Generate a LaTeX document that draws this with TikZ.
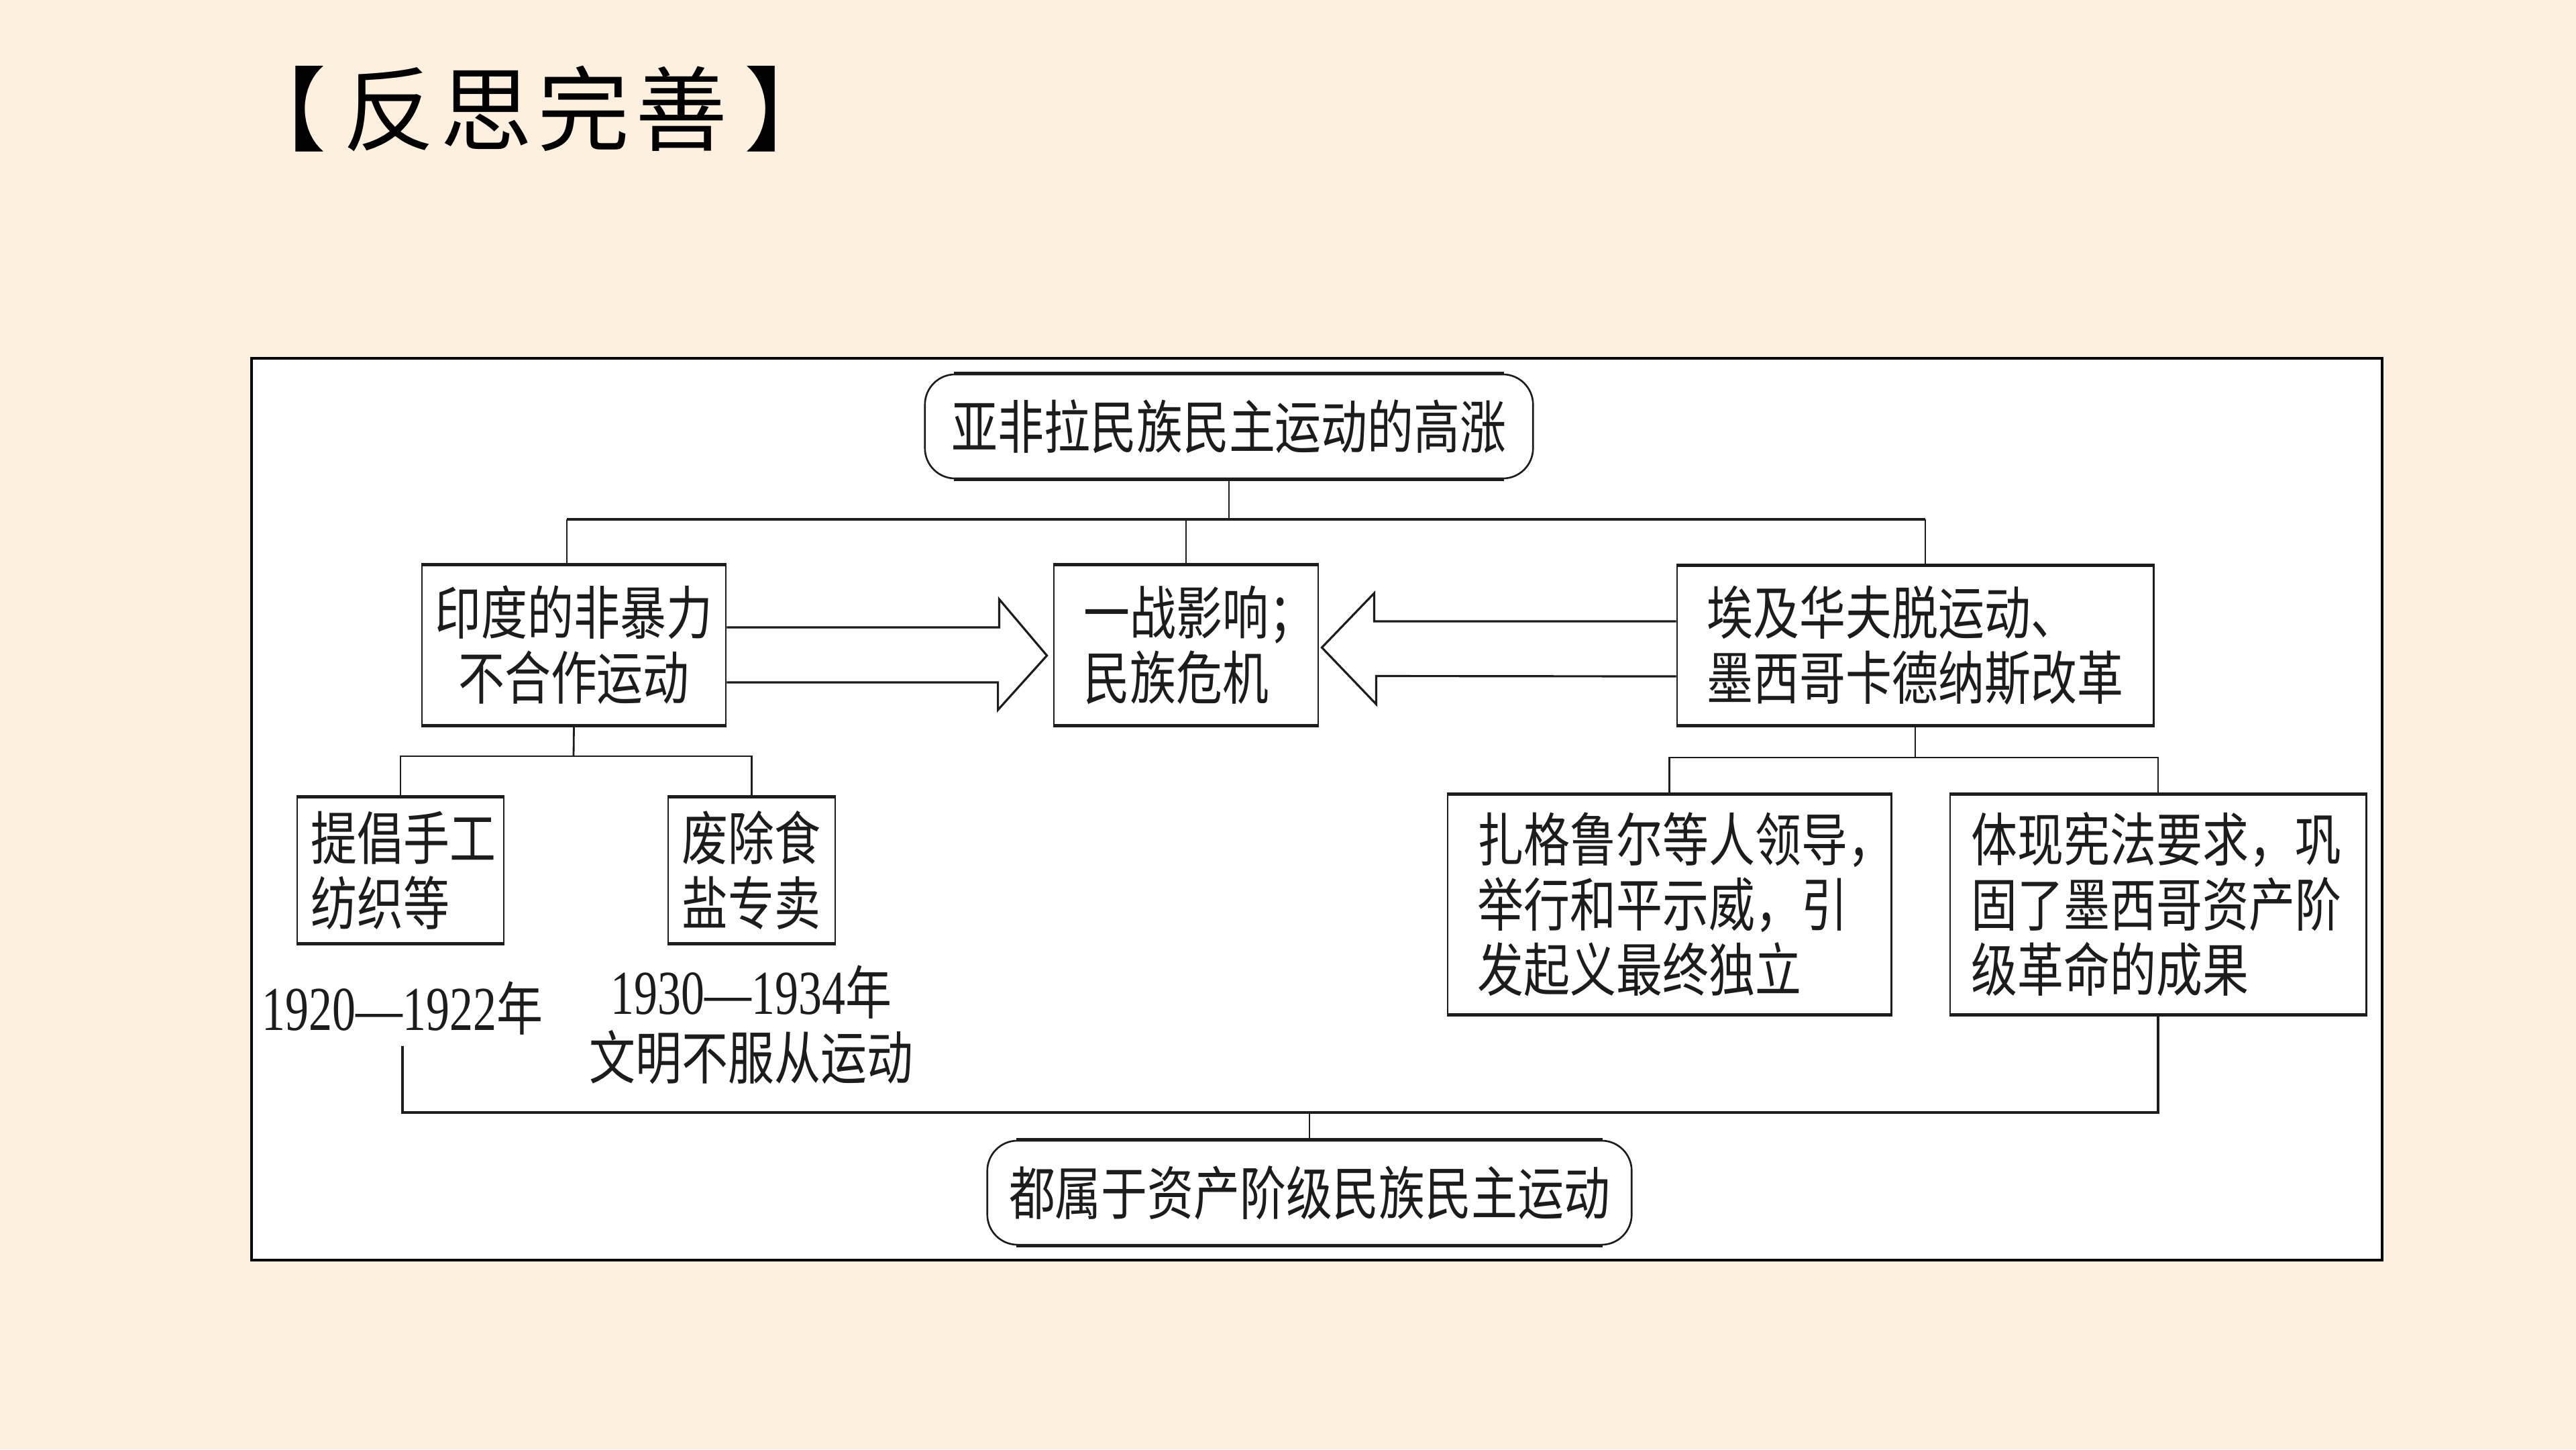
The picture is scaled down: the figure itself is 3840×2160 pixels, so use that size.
\documentclass[tikz,border=0pt]{standalone}
\usepackage{fontspec}
\newfontfamily\cjk[FakeStretch=0.8]{Noto Sans CJK SC}
\newfontfamily\titlecjk{Noto Sans CJK SC}
\newfontfamily\numserif[FakeStretch=0.75]{Liberation Serif}
\newcommand\cjksz{\fontsize{24.5pt}{27.6pt}\selectfont}
\newcommand\numsz{\fontsize{26.5pt}{27.6pt}\selectfont}
\definecolor{paper}{RGB}{253,240,222}
\definecolor{ink}{RGB}{28,28,28}

\begin{document}
\begin{tikzpicture}[x=0.01cm,y=-0.01cm,
  txt/.style={font=\cjk\cjksz, text=ink, inner sep=0pt},
  box/.style={txt, draw=ink, line width=0.75pt, fill=white},
  lbox/.style={box, align=left},
  pill/.style={box, rounded corners=0.45cm, minimum height=1.55cm, align=center},
  edge/.style={draw=ink, line width=1.3pt},
  conn/.style={draw=ink, line width=0.8pt},
  bar/.style={draw=ink, line width=1.2pt},
  hollow/.style={draw=ink, line width=0.9pt, fill=white, line join=miter},
]
% page and white panel
\useasboundingbox (0,0) rectangle (3840,2160);
\fill[paper] (0,0) rectangle (3840,2160);
\draw[fill=white, draw=black, line width=1.1pt] (375,534) rectangle (3551,1878);

% heading
\node[font=\titlecjk\fontsize{39pt}{40pt}\selectfont, text=black, inner sep=0pt] (title) at (798,162)
  {【\hspace{0.25cm}反\hspace{0.08cm}思\hspace{0.08cm}完\hspace{0.08cm}善\hspace{0.25cm}】};

% boxes
\node[pill, minimum width=9.06cm] (rise) at (1832,635.5) {亚非拉民族民主运动的高涨};
\node[box, align=center, minimum width=4.53cm, minimum height=2.37cm] (india) at (855.5,961.5) {印度的非暴力\\不合作运动};
\node[lbox, text width=3.04cm, inner xsep=0.45cm, minimum height=2.37cm] (mid) at (1768,961.5) {一战影响；\\民族危机};
\node[lbox, text width=6.20cm, inner xsep=0.45cm, minimum height=2.37cm] (egypt) at (2855,962) {埃及华夫脱运动、\\墨西哥卡德纳斯改革};
\node[lbox, text width=2.66cm, inner xsep=0.21cm, minimum height=2.16cm] (spin) at (597,1297) {提倡手工\\纺织等};
\node[lbox, text width=2.07cm, inner xsep=0.21cm, minimum height=2.16cm] (salt) at (1120.5,1297) {废除食\\盐专卖};
\node[lbox, text width=5.71cm, inner xsep=0.45cm, minimum height=3.26cm] (zag) at (2488.5,1348) {扎格鲁尔等人领导，\\举行和平示威，引\\发起义最终独立};
\node[lbox, text width=5.56cm, inner xsep=0.32cm, minimum height=3.26cm] (cons) at (3217,1348) {体现宪法要求，巩\\固了墨西哥资产阶\\级革命的成果};
\node[pill, minimum width=9.60cm] (common) at (1952,1777.5) {都属于资产阶级民族民主运动};

% year labels
\node[txt, inner ysep=0.15cm] (y1) at (600,1503) {{\numserif\numsz 1920—1922}年};
\node[txt, align=center] (y2) at (1120,1527) {{\numserif\numsz 1930—1934}年\\文明不服从运动};

% heavier top and bottom edges of the boxes
\foreach \n in {india,mid,egypt,spin,salt,zag,cons}
  \draw[edge] (\n.north west) -- (\n.north east) (\n.south west) -- (\n.south east);
\foreach \n in {rise,common}
  \draw[edge] ([xshift=0.45cm]\n.north west) -- ([xshift=-0.45cm]\n.north east)
              ([xshift=0.45cm]\n.south west) -- ([xshift=-0.45cm]\n.south east);

% tree connectors
\coordinate (jl) at (845,774);
\coordinate (jr) at (2870,774);
\draw[conn] (rise.south) -- (rise.south |- jl);
\draw[bar] (jl) -- (jr);
\draw[conn] (jl) -- (jl |- india.north);
\draw[conn] (mid.north |- jl) -- (mid.north);
\draw[conn] (jr) -- (jr |- egypt.north);

\coordinate (lbar) at (855,1127);
\draw[conn] (india.south) -- (lbar);
\draw[conn] (spin.north) |- (lbar) -| (salt.north);

\coordinate (rbar) at (2855,1129);
\draw[conn] (egypt.south) -- (rbar);
\draw[conn] (zag.north) |- (rbar) -| (cons.north);

\coordinate (bbar) at (1952,1658);
\draw[bar] (y1.south) |- (bbar) -| (cons.south);
\draw[conn] (bbar) -- (common.north);

% hollow block arrows into the middle box
\draw[hollow] ([yshift=0.265cm]india.east) -- ++(406,0) -- ++(0,-42)
  -- ([xshift=-0.09cm,yshift=-0.155cm]mid.west) -- ++(-73,81) -- ++(0,-41)
  -- ([yshift=-0.555cm]india.east);
\draw[hollow] ([yshift=0.36cm]egypt.west) -- ++(-450,0) -- ++(0,-42)
  -- ([xshift=0.04cm,yshift=-0.035cm]mid.east) -- ++(81,84.5) -- ++(0,-42)
  -- ([yshift=-0.46cm]egypt.west);
\end{tikzpicture}
\end{document}
